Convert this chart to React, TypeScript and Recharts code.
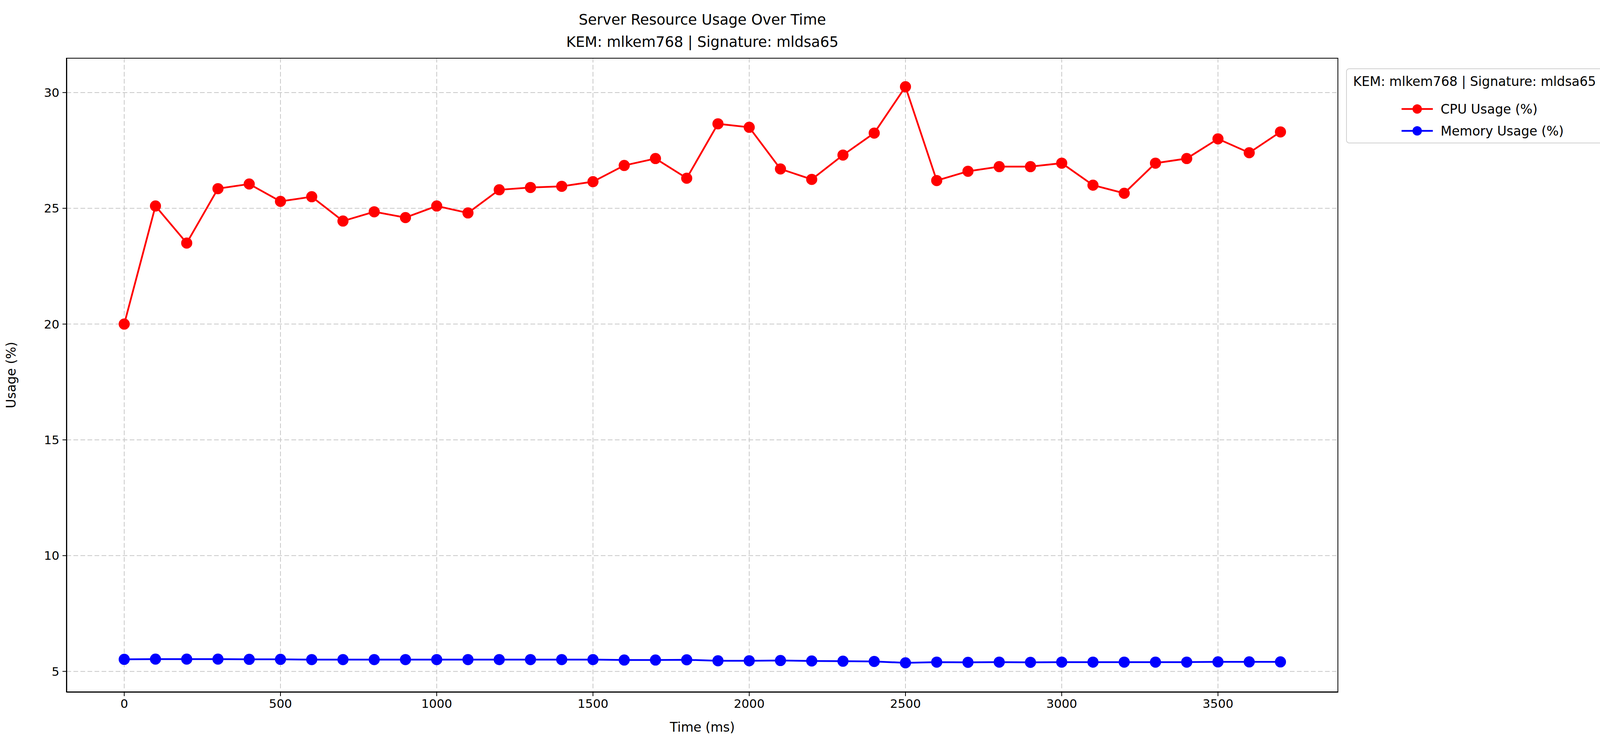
import React from "react";
import { LineChart, Line, XAxis, YAxis, CartesianGrid, Label } from "recharts";

const times = [0,100,200,300,400,500,600,700,800,900,1000,1100,1200,1300,1400,1500,1600,1700,1800,1900,2000,2100,2200,2300,2400,2500,2600,2700,2800,2900,3000,3100,3200,3300,3400,3500,3600,3700];
const cpu = [20.0,25.1,23.5,25.85,26.05,25.3,25.5,24.45,24.85,24.6,25.1,24.8,25.8,25.9,25.95,26.15,26.85,27.15,26.3,28.65,28.5,26.7,26.25,27.3,28.25,30.25,26.2,26.6,26.8,26.8,26.95,26.0,25.65,26.95,27.15,28.0,27.4,28.3];
const mem = [5.52,5.53,5.53,5.53,5.52,5.52,5.51,5.51,5.51,5.51,5.51,5.51,5.51,5.51,5.51,5.51,5.49,5.49,5.5,5.46,5.46,5.47,5.45,5.44,5.43,5.37,5.4,5.39,5.4,5.39,5.4,5.4,5.4,5.4,5.4,5.41,5.41,5.41];
const xTicks = [0,500,1000,1500,2000,2500,3000,3500];
const yTicks = [5,10,15,20,25,30];
const data = times.map((t, i) => ({ t, cpu: cpu[i], mem: mem[i] }));

const F = "'DejaVu Sans', sans-serif";
const L = 170, R = 3426, T = 148, B = 1772;

export default function App() {
  return (
    <div style={{ position: "absolute", left: 0, top: 0, width: 4294, height: 1925, background: "#fff", fontFamily: F }}>
      <div style={{ position: "absolute", left: L, width: R - L, top: 22, textAlign: "center", fontSize: 37, lineHeight: "57px", color: "#000" }}>
        Server Resource Usage Over Time<br />KEM: mlkem768 | Signature: mldsa65
      </div>
      <LineChart width={4294} height={1925} data={data} margin={{ top: T, right: 4294 - R, bottom: 0, left: 0 }}>
        <CartesianGrid stroke="#c8c8c8" strokeDasharray="12 6" strokeWidth={2} horizontalValues={yTicks} verticalValues={xTicks} />
        <XAxis dataKey="t" type="number" domain={[-185, 3885]} ticks={xTicks} height={1925 - B} tick={{ fontSize: 31, fill: "#000", fontFamily: F }} tickSize={10} tickMargin={8} stroke="#000" strokeWidth={2} allowDataOverflow>
          <Label value="Time (ms)" position="insideTop" offset={78} style={{ fontSize: 33, fill: "#000", fontFamily: F }} />
        </XAxis>
        <YAxis type="number" domain={[4.1, 31.5]} ticks={yTicks} width={L} tick={{ fontSize: 31, fill: "#000", fontFamily: F }} tickSize={10} tickMargin={8} stroke="#000" strokeWidth={2} allowDataOverflow>
          <Label value="Usage (%)" angle={-90} position="insideLeft" offset={28} style={{ fontSize: 33, fill: "#000", fontFamily: F, textAnchor: "middle" }} />
        </YAxis>
        <Line dataKey="cpu" stroke="#ff0000" strokeWidth={4.5} dot={{ r: 12, fill: "#ff0000", stroke: "#ff0000" }} isAnimationActive={false} />
        <Line dataKey="mem" stroke="#0000ff" strokeWidth={4.5} dot={{ r: 12, fill: "#0000ff", stroke: "#0000ff" }} isAnimationActive={false} />
      </LineChart>
      <div style={{ position: "absolute", left: L, top: T, width: R - L, height: B - T, border: "2px solid #000", boxSizing: "border-box", pointerEvents: "none" }} />
      <div style={{ position: "absolute", left: 3446, top: 175, width: 832, height: 192, border: "2px solid #d0d0d0", borderRadius: 8, boxSizing: "border-box", fontSize: 33, color: "#000", background: "#fff" }}>
        <div style={{ position: "absolute", left: 16, top: 12 }}>KEM: mlkem768 | Signature: mldsa65</div>
        {[["#ff0000", "CPU Usage (%)", 80], ["#0000ff", "Memory Usage (%)", 136]].map(([c, t, y]) => (
          <div key={t as string} style={{ position: "absolute", left: 140, top: y as number, height: 44, display: "flex", alignItems: "center" }}>
            <svg width={80} height={30} style={{ marginRight: 20 }}>
              <line x1={0} y1={15} x2={80} y2={15} stroke={c as string} strokeWidth={4.5} />
              <circle cx={40} cy={15} r={12} fill={c as string} />
            </svg>
            <span>{t}</span>
          </div>
        ))}
      </div>
    </div>
  );
}
